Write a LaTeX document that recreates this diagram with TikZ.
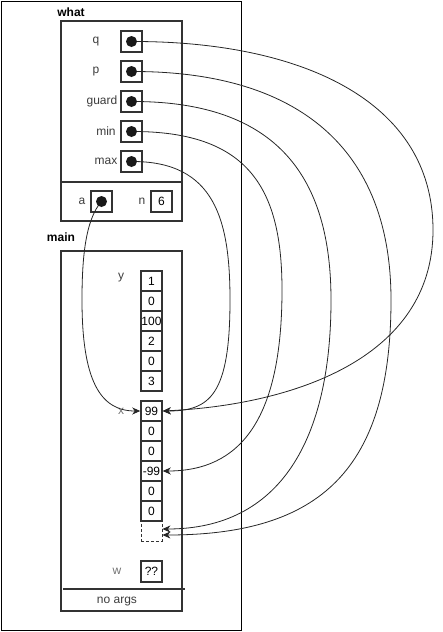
\documentclass[tikz,border=0pt]{standalone}
\usepackage{fontspec}
\setmainfont{Liberation Sans}
\usetikzlibrary{arrows.meta}
\definecolor{boxedge}{RGB}{51,51,51}
\definecolor{labelgray}{RGB}{60,60,60}
\tikzset{
    frame/.style   = {draw = black, line width = 1.8pt},
    record/.style  = {draw = boxedge, line width = 1.5pt},
    cell/.style    = {draw = boxedge, line width = 1.5pt, minimum width = 21pt, minimum height = 20pt, inner sep = 0pt, font = \fontsize{12}{14}\selectfont},
    slot/.style    = {cell, line width = 0.8pt, dash pattern = on 3pt off 2pt},
    pointer/.style = {cell, minimum height = 21pt},
    varname/.style = {text = labelgray, inner sep = 0pt, font = \fontsize{12}{14}\selectfont},
    faded/.style   = {varname, text = black!55},
    header/.style  = {inner sep = 0pt, font = \bfseries\fontsize{12}{14}\selectfont},
    ref/.style     = {draw = black!85, line width = 0.8pt, -{Stealth[length = 8pt, width = 7pt, inset = 2.5pt]}}
}

\begin{document}
\begin{tikzpicture}[x=1pt, y=-1pt]
		\useasboundingbox (0,0) rectangle (442,632);
		\draw[frame] (1.5,1.5) rectangle (241.5,630.5);

		% frame of what
		\node[header] (whattitle) at (71,12) {what};
		\draw[record] (61,21) rectangle (182,221);
		\draw[record] (61,182) -- (182,182);
		\foreach \v/\lx/\ly in {q/96/41.5, p/96/71.5, guard/102/101.5, mn/106/131.5, mx/106/161.5}
			\node[pointer] (\v) at (131.5,\ly) {};
		\node[varname] (qname) at (96,41.5) {q};
		\node[varname] (pname) at (96,71.5) {p};
		\node[varname] (guardname) at (102,101.5) {guard};
		\node[varname] (mnname) at (106,131.5) {min};
		\node[varname] (mxname) at (106,161.5) {max};
		\node[pointer] (a) at (101.5,201.5) {};
		\node[varname] (aname) at (82,201.5) {a};
		\node[pointer] (n) at (161.5,201.5) {6};
		\node[varname] (nname) at (142,201.5) {n};

		% frame of main
		\node[header] (maintitle) at (61,237) {main};
		\draw[record] (61,251) rectangle (182,611);
		\draw[record] (63,589) -- (185,589);
		\node[varname] (noargs) at (117,602) {no args};
		\foreach \v [count=\i] in {1,0,100,2,0,3}
			\node[cell] (y\i) at (151.5,261+20*\i) {\v};
		\foreach \v [count=\i] in {99,0,0,-99,0,0}
			\node[cell] (x\i) at (151.5,391+20*\i) {\v};
		\node[slot] (x7) at (151.5,531) {};
		\node[varname] (yname) at (121,278) {y};
		\node[faded] (xname) at (121,411) {x};
		\node[pointer] (w) at (151.5,571.5) {??};
		\node[faded] (wname) at (117,571.5) {w};

		\draw[ref] (q.center) .. controls (300,41) and (433,100) .. (433,230) .. controls (433,360) and (290,405) .. (x1.east);
		\draw[ref] (p.center) .. controls (300,71) and (391,150) .. (391,300) .. controls (391,470) and (320,535) .. ([yshift=-4pt]x7.east);
		\draw[ref] (guard.center) .. controls (280,101) and (331,180) .. (331,300) .. controls (331,440) and (280,529) .. ([yshift=2pt]x7.east);
		\draw[ref] (mn.center) .. controls (250,131) and (282,190) .. (282,290) .. controls (282,420) and (240,471) .. (x4.east);
		\draw[ref] (mx.center) .. controls (215,161) and (230,220) .. (230,300) .. controls (230,395) and (210,411) .. (x1.east);
		\draw[ref] (a.center) .. controls (85,220) and (82,260) .. (82,300) .. controls (82,380) and (100,411) .. (x1.west);

		\foreach \v in {q,p,guard,mn,mx,a}
			\fill[black!90] (\v.center) circle (5.5);
	\end{tikzpicture}
\end{document}
